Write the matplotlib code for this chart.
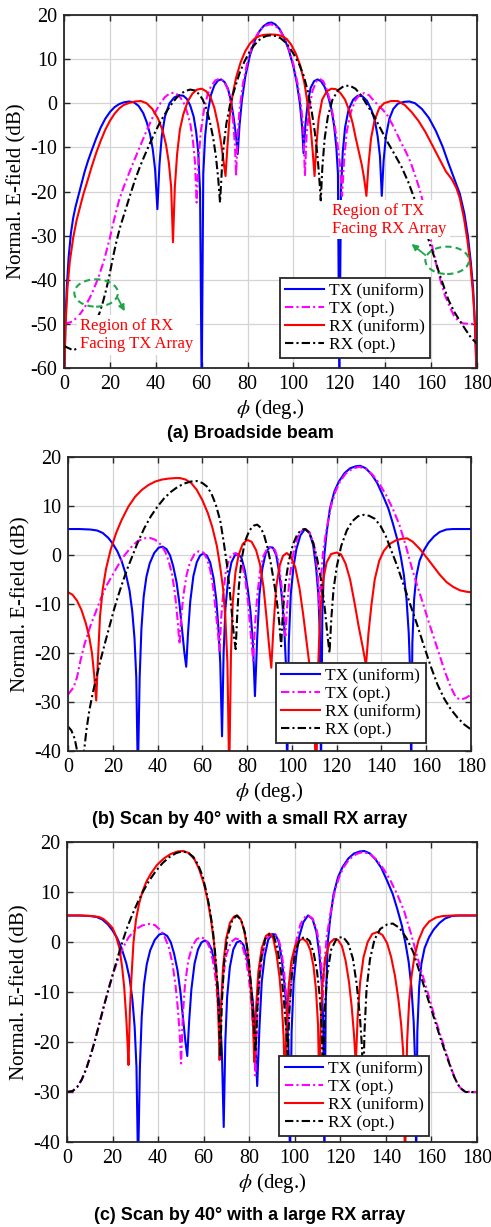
import matplotlib
matplotlib.use("Agg")
import matplotlib.pyplot as plt
from matplotlib.patches import Ellipse

# ---- values: (phi in deg, normalised E-field in dB) ----

# (a) broadside beam
a_tx_uni = [(0,-65),(0.6,-50),(1.2,-42),(2,-35),(3,-29.5),(4,-26),(5,-23.5),(6,-21.5),(7.5,-18.5),(9,-15.5),
            (10.5,-13),(12,-10.8),(14,-8),(16,-5.5),(18,-3.5),(20,-2),(22,-0.9),(24,-0.2),(26,0.2),(28.5,0.4),
            (30.5,0.2),(32.5,-0.6),(34.5,-2.2),(36,-4.2),(37.5,-7),(38.7,-10.5),(39.7,-15),(40.7,-24),(41.6,-14),
            (42.6,-7.5),(44,-3),(46,0),(48,1.3),(50,1.8),(52,1.7),(53.5,1),(55,-0.5),(56.5,-3),(57.6,-6.5),
            (58.5,-11),(59.3,-20),(60,-65),(60.7,-16),(61.5,-7.5),(62.5,-2.5),(64,1.8),(65.5,4),(67,5.1),
            (68.5,5.4),(70,4.8),(71.5,3.2),(72.8,0.5),(74,-3.5),(75,-7.5),(75.7,-11.5),(76.5,-5),(77.5,0.5),
            (79,6),(81,10.8),(83,14),(85,16.2),(87,17.5),(89,18.2),(90.5,18.3),(92,17.9),(94,16.8),(96,14.8),
            (98,12),(100,8.3),(101.5,4.5),(102.8,0),(103.8,-5.5),(104.4,-11.3),(105.2,-5),(106.2,0),(107.5,3.5),
            (109,5),(110.5,5.4),(112,5),(113.5,3.8),(115,1.8),(116.5,-1.2),(117.7,-5),(118.7,-10),(119.4,-16),
            (120,-65),(120.7,-20),(121.5,-11),(122.5,-5.5),(124,-1.5),(126,0.8),(128,1.7),(130,1.6),(132,0.6),
            (134,-1.5),(135.5,-4),(136.7,-7.5),(137.7,-12),(138.5,-21),(139.3,-13),(140.3,-7.5),(141.8,-3.5),
            (143.5,-1.3),(145.5,-0.1),(148,0.3),(150.5,0.4),(153,0),(156,-1.3),(159,-3.3),(162,-6.2),(165,-9.8),
            (167.5,-13.5),(170,-17),(172.5,-20.5),(174.5,-25),(176,-30),(177.3,-36),(178.3,-42),(179.1,-50),(180,-65)]
a_tx_opt = [(0,-50),(3,-49.6),(6,-48.5),(9,-46.3),(12,-43.3),(15,-39.5),(17.5,-35.5),(20,-30.5),(22,-26),(24,-22),
            (26,-19),(28,-16.3),(30,-13.7),(32,-11.2),(34,-8.7),(36,-6.2),(38,-3.9),(40,-1.8),(42,0),(44,1.4),
            (46,2.2),(48,2.4),(50,1.8),(52,0.3),(53.5,-1.8),(55,-4.5),(56.2,-8.5),(57.1,-13.5),(57.8,-22.5),
            (58.6,-13),(59.6,-6.5),(61,-1.5),(62.5,1.8),(64,3.8),(66,5.2),(68,5.6),(70,4.8),(71.5,3),(72.8,0),
            (73.8,-4.5),(74.5,-9.5),(75,-16.5),(75.6,-8),(76.5,-1.5),(78,4.5),(80,9.5),(82,13),(84,15.4),(86,16.9),
            (88,17.6),(90,17.9),(92,17.6),(94,16.6),(96,14.8),(98,12.3),(100,8.8),(101.8,4.5),(103.3,-0.5),
            (104.3,-5.5),(105,-16.5),(105.7,-7.5),(106.8,-1.5),(108.3,2.8),(110,5),(111.5,5.5),(113,5),(114.5,3.2),
            (116,0.5),(117.5,-3.5),(119,-8.5),(120.3,-14),(121.2,-21),(122,-13.5),(123.2,-6.5),(125,-2),(127,0.7),
            (129,2),(131,2.3),(133,1.8),(135,0.6),(137,-0.5),(139,-1.5),(141,-2.8),(143,-4.7),(145,-6.8),(147,-9),
            (149,-11),(151,-13.3),(153,-16.3),(155,-19.5),(157,-23.5),(159,-28.5),(160.5,-32.5),(162,-36),
            (164,-40),(166,-43.5),(168,-46),(170,-48.2),(172,-49.4),(174,-49.9),(177,-50),(180,-50)]
a_rx_uni = [(0,-65),(0.7,-50),(1.5,-42),(2.5,-36),(4,-30.5),(5.5,-26.5),(7,-23.5),(8.5,-20.5),(10,-18),(12,-14.5),
            (14,-11.3),(16,-8.5),(18,-6),(20,-4),(22,-2.4),(24,-1.2),(26,-0.4),(28.5,0.1),(31,0.4),(33.5,0.5),
            (36,0),(38.5,-1.3),(41,-3.5),(43,-6.2),(44.5,-9.5),(45.7,-13.5),(46.7,-19),(47.5,-31.5),(48.3,-19),
            (49.3,-11.5),(50.5,-6),(52,-2.5),(54,0.5),(56,2.2),(58,3.1),(60,3.3),(62,2.7),(64,1.2),(65.5,-1),
            (67,-4.5),(68.3,-8.5),(69.5,-13),(70.4,-16.5),(71.2,-10),(72.2,-3),(73.5,2),(75,5.8),(77,9.3),
            (79,11.8),(81,13.5),(83,14.6),(85,15.2),(87,15.5),(90,15.6),(93,15.5),(95,15.2),(97,14.6),(99,13.3),
            (101,11.3),(103,8.5),(104.8,4.5),(106.3,-0.5),(107.5,-5.5),(108.4,-11),(109.2,-16.5),(110,-9.5),
            (111,-3.5),(112.5,0.8),(114.5,2.7),(116.5,3.3),(118.5,3.2),(120.5,2.3),(122.5,0.8),(124.2,-1.5),
            (125.8,-4.5),(127.2,-8),(128.5,-11),(129.8,-14),(130.8,-17),(131.8,-21),(132.7,-14),(133.8,-8),
            (135.3,-4),(137.3,-1.2),(139.5,0),(142.5,0.5),(145.5,0.5),(148.5,-0.4),(151.5,-2),(154.5,-4),
            (157.5,-6.5),(160.5,-9.5),(163.5,-12.5),(166.5,-15.5),(169,-17.2),(171,-19.2),(172.5,-21.5),
            (174.3,-26),(175.8,-31),(177.2,-37),(178.4,-44),(179.3,-52),(180,-65)]
a_rx_opt = [(0,-55),(2,-55.5),(4,-56),(6,-55.5),(8,-54.3),(10,-53),(12,-51.3),(14,-49.3),(15.5,-47.5),(17,-45),
            (18.5,-42),(20,-38.5),(21.5,-34.5),(23,-31),(24.5,-28),(26,-25.5),(27.5,-23),(29,-20.5),(31,-17.3),
            (33,-14.5),(35,-12),(37,-9.6),(39,-7.3),(41,-5.2),(43,-3.3),(45,-1.6),(47,-0.1),(49,1.2),(51,2.2),
            (53,2.8),(55,3.1),(57,2.9),(59,2),(60.5,0.8),(62,-1.2),(63.5,-4),(65,-7.8),(66.2,-12),(67.2,-17),
            (68,-22.5),(68.8,-15),(69.6,-9.5),(70.8,-4.5),(72.5,0),(74.5,3.5),(76.5,6.8),(78.5,9.3),(80.5,11.3),
            (82.5,12.9),(84.5,14.1),(86.5,14.9),(88.5,15.3),(90.5,15.4),(92.5,15.2),(94.5,14.7),(96.5,13.8),
            (98.5,12.5),(100.5,10.8),(102.5,8.8),(104.5,6.2),(106.3,2.6),(108,-2),(109.3,-6.5),(110.4,-11.5),
            (111.2,-16.5),(111.9,-22),(112.6,-14.5),(113.6,-8),(115,-3),(117,0.8),(119.5,3),(122,3.9),(124.5,4),
            (127,3.3),(129.5,1.8),(132,-0.3),(135,-2.8),(138,-5.8),(141,-8.8),(144,-11.5),(147,-14.3),(150,-17.8),
            (153,-22),(155.5,-25.5),(157.5,-28.5),(159.5,-32),(161.5,-35),(163.5,-38.5),(165.5,-41.5),
            (167.5,-44.5),(170,-47.2),(172.5,-49.3),(175,-51.3),(177.5,-53.2),(180,-54.5)]

# (b) scan by 40 deg, small RX array
b_tx_uni = [(0,5.3),(5,5.3),(10,5.2),(13,5),(15.5,4.5),(18,3.5),(20,2.3),(22,0.8),(24,-1.3),(26,-4.2),(27.5,-7.3),
            (28.7,-11.5),(29.7,-17),(30.5,-25),(31.2,-45),(32,-25),(32.8,-15),(33.8,-8.5),(35,-4.5),(36.5,-1.7),
            (38.5,0.4),(40.5,1.5),(42.3,1.7),(44,1.2),(45.6,-0.1),(47,-2.3),(48.5,-5.6),(49.8,-10),(51,-15.5),
            (52,-20),(52.8,-22.8),(53.6,-16),(54.6,-9.5),(56,-4.3),(57.5,-1.5),(59,-0.1),(60.5,0.3),(62,-0.1),
            (63.5,-1.5),(65,-4.7),(66.2,-9),(67.2,-15),(68,-22),(68.8,-37),(69.5,-20),(70.3,-11),(71.5,-5),
            (73,-1.5),(74.5,-0.1),(76,0.2),(77.5,-0.6),(79,-3.2),(80.3,-7),(81.5,-11.5),(82.6,-18),(83.5,-28.8),
            (84.5,-17),(85.5,-8),(86.8,-2.8),(88.3,0.4),(90,1.6),(91.5,1.5),(93,0),(94.3,-3.5),(95.5,-8.5),
            (96.5,-14),(97.3,-22),(97.9,-45),(98.6,-18),(99.5,-8),(100.7,-2.5),(102,1.2),(103.8,4),(105.8,5.3),
            (107.8,4.6),(109.5,2),(110.8,-2.5),(111.8,-8),(112.5,-16),(113,-45),(113.6,-12),(114.5,0),(115.5,4.5),
            (117,9.5),(119,13),(121,15),(123.5,16.7),(126,17.7),(128.5,18.1),(130.5,18.2),(133,17.7),(135.5,16.5),
            (138,14.8),(140.5,12.3),(143,9.6),(145,6.6),(147,3.3),(148.7,-0.5),(150,-4),(151.2,-9),(152.2,-16),
            (152.9,-25),(153.3,-45),(153.8,-18),(154.6,-9),(155.6,-4.3),(157,-1.2),(159,1),(161,2.5),(163.5,3.8),
            (166,4.7),(169,5.2),(172,5.3),(180,5.3)]
b_tx_opt = [(0,-28.5),(2.5,-27),(4,-25),(5.6,-21.5),(7.5,-18),(10,-14.5),(12.5,-11.5),(15,-8.5),(17.5,-6),(20,-4),
            (22.5,-2),(25,-0.2),(28,1.5),(31,2.8),(34,3.4),(36.5,3.5),(39,3.1),(41.5,2.1),(43.5,0.6),(45,-1.3),
            (46.5,-4),(47.8,-8),(48.9,-13),(49.8,-18.2),(50.6,-12.5),(51.6,-8),(53,-4),(54.5,-1.5),(56.5,0.2),
            (58.5,0.8),(60.5,0.5),(62,-0.7),(63.5,-3),(64.8,-6.5),(66,-11.5),(67,-16),(67.7,-19.5),(68.4,-13),
            (69.2,-8.5),(70.5,-3.3),(72,-0.8),(73.5,0.2),(75,0.4),(76.5,-0.4),(78,-2.3),(79.3,-5.5),(80.5,-10),
            (81.5,-15.5),(82.7,-21.5),(83.5,-14.5),(84.5,-8.5),(85.7,-3.5),(87.3,-0.2),(89,1.3),(90.8,1.7),
            (92.5,1),(94,-1.3),(95.2,-5.5),(96.2,-10.5),(97.1,-16.5),(97.9,-10.5),(99,-4.5),(100.5,0),(102.5,3.6),
            (104.5,5),(106,5.3),(107.8,4.7),(109.5,2.7),(110.8,-0.5),(111.7,-5),(112.3,-11),(113,-4.5),(114,1),
            (115.5,5.3),(117.5,10),(119.5,13),(121.5,15),(124,16.6),(127,17.6),(130,18),(133,17.6),(136,16.4),
            (139,14.6),(142,12.3),(145,9.5),(148,6.2),(151,1.7),(153.5,-2.5),(156,-6.3),(158.5,-9.8),(161,-13.5),
            (163.5,-17),(166,-20.5),(168.5,-24),(171,-27),(173.3,-29.1),(175.4,-29.5),(177.6,-29.2),(180,-28.5)]
b_rx_uni = [(0,-7.6),(2,-8.1),(4,-9.3),(6,-11.2),(8,-14),(9.5,-16.8),(10.7,-20),(11.7,-24.5),(12.6,-29.7),
            (13.4,-21),(14.3,-12.5),(15.5,-7),(17,-2.8),(19,1),(21.5,4.5),(24,7.2),(27,9.9),(30,11.9),(33,13.3),
            (36,14.3),(39,15),(42,15.4),(45,15.6),(48,15.7),(50,15.7),(52.5,15.4),(55,14.7),(57.5,13.3),(60,11.2),
            (62.5,8.5),(64.5,5.6),(66.5,1.8),(68,-2.5),(69.3,-7),(70.3,-13),(71.2,-22),(72,-45),(72.8,-20),
            (73.6,-9.5),(74.8,-3.5),(76.2,0),(78,2.2),(80,3.1),(82,2.7),(84,1),(85.8,-2),(87.3,-6.5),(88.5,-12),
            (89.7,-18),(90.8,-23),(91.8,-14.5),(93,-6.5),(94.5,-2.2),(96,-0.2),(97.7,0.4),(99.5,-0.3),(101.5,-2.5),
            (103.4,-6.8),(105,-12),(106.5,-17.5),(108,-23),(109.5,-30),(110.9,-45),(111.8,-22),(112.6,-12),
            (113.8,-5.5),(115.5,-1.5),(117.5,0.2),(120,0.5),(122,0.1),(124,-1.8),(126,-5),(128,-9.8),(129.8,-14.5),
            (131.5,-18.5),(133.1,-22.5),(134.2,-16),(135.5,-10.3),(137,-5),(139,-1.2),(141,0.8),(143.5,2.2),
            (146.5,3),(149,3.3),(151.5,3.4),(154,2.7),(157,1.3),(160,-0.4),(163,-2.2),(166,-4),(169,-5.5),
            (172,-6.5),(175,-7.2),(178,-7.5),(180,-7.6)]
b_rx_opt = [(0,-35),(1.5,-35.8),(3,-37.5),(4.3,-40.5),(5.5,-43),(6.5,-42),(7.3,-39.5),(8.3,-35.5),(9.5,-31.8),
            (11,-28.3),(12.5,-25.3),(14.5,-21.5),(16.5,-18),(18.5,-14.6),(20.5,-11.2),(22.5,-8.2),(24.5,-5.4),
            (26.5,-2.8),(28.5,-0.5),(31,2.4),(34,5.4),(37,7.9),(40,9.9),(43,11.6),(46,12.9),(49,13.9),(52,14.6),
            (55,15),(57.5,15.1),(60,14.7),(62,14),(64,12.6),(66,10.3),(68,7),(69.5,2.8),(71,-2),(72.3,-7.5),
            (73.3,-12.5),(74.2,-17),(74.9,-19.2),(75.5,-13),(76.3,-6.5),(77.5,-1),(79,2.7),(81,5),(83,6),
            (84.5,6.2),(86,5.6),(87.5,4.2),(89,1.7),(90.5,-1.5),(92,-5.5),(93.3,-9.5),(94.4,-14),(95.2,-18.6),
            (96,-11.5),(97,-6),(98.5,-1.5),(100.5,2.2),(102.5,4.3),(104.5,5.2),(106,5.3),(107.8,4.5),(109.5,2.5),
            (111.3,-0.8),(113,-5),(114.5,-10),(115.7,-15.5),(116.8,-20),(117.6,-13),(118.6,-7),(120,-2.5),
            (122,1.8),(124.5,5),(127,6.9),(129.5,7.9),(132,8.2),(134.5,8),(137,7.4),(139.5,6),(142,3.8),
            (144.5,0.8),(147,-2.2),(150,-6.2),(153,-10.3),(156,-14.3),(159,-18.6),(162,-22.7),(165,-26.4),
            (168,-29.3),(171,-31.5),(174,-33.2),(177,-34.6),(180,-35.6)]

# (c) scan by 40 deg, large RX array (TX uniform trace is the same as in (b))
c_tx_uni = list(b_tx_uni)
c_tx_opt = [(0,-30),(2.5,-29.8),(4.5,-29),(6.5,-27.5),(8.5,-25.3),(10.5,-22.5),(12.5,-19.3),(14.5,-15.8),
            (16.5,-12.3),(18.5,-9),(20.5,-6),(22.5,-3.4),(24.5,-1.2),(27,0.9),(30,2.5),(33,3.3),(36,3.6),
            (38.5,3.4),(41,2.4),(43,0.9),(44.8,-1.2),(46.3,-4.3),(47.6,-8.5),(48.7,-13.5),(49.5,-18.5),
            (50.1,-24.3),(50.8,-15),(51.8,-8.5),(53.2,-3.8),(55,-0.8),(57,0.6),(59,1),(61,0.4),(62.5,-1),
            (64,-3.6),(65.3,-7.5),(66.3,-12.5),(67,-19.5),(67.7,-12.5),(68.7,-6.5),(70,-2.5),(72,0),(74,0.7),
            (75.5,0.5),(77,-0.8),(78.5,-3.3),(79.8,-7),(81,-12.5),(82,-19),(82.7,-26.7),(83.5,-15),(84.5,-7.5),
            (85.8,-2.5),(87.5,0.5),(89.5,1.6),(91,1.6),(92.5,1),(94,-1.3),(95.2,-5.5),(96.2,-10.5),(97.1,-16.5),
            (97.9,-10.5),(99,-4.5),(100.5,0),(102.5,3.6),(104.5,5),(106,5.3),(107.8,4.7),(109.5,2.7),(110.8,-0.5),
            (111.7,-5),(112.3,-11),(113,-4.5),(114,1),(115.5,5.3),(117.5,10),(119.5,13),(121.5,15),(124,16.6),
            (127,17.6),(130,18),(133,17.6),(136,16.4),(139,14.6),(142,12.3),(145,9.5),(148,6.2),(151,1.7),
            (153.5,-2.5),(156,-6.5),(158.5,-10.3),(161,-14.3),(163.5,-18),(166,-21.5),(168.5,-25),(170.5,-27.5),
            (172.5,-29.1),(174.5,-29.8),(177,-30),(180,-30)]
c_rx_uni = [(0,5.3),(6,5.3),(11,5.2),(14,5),(16,4.6),(18,3.8),(20,2.8),(21.5,1.2),(23,-1.2),(24.2,-5),(25.1,-9),
            (26,-15),(26.6,-20.4),(27,-24.6),(27.6,-14),(28.3,-7),(29.2,0),(30.3,4.5),(31.7,7.8),(33.3,10.3),
            (35,12.2),(37,13.8),(39.5,15.4),(42.5,16.7),(45.5,17.6),(48.5,18.1),(51,18.2),(53.5,17.8),(56,16.5),
            (58,14.6),(60,11.8),(61.7,8.5),(63.2,4.5),(64.5,0),(65.4,-5),(66.1,-11),(66.6,-17),(67,-23.6),
            (67.6,-13),(68.5,-5),(69.8,0.5),(71.5,3.8),(73.3,5.1),(74.8,5.3),(76.3,4.5),(77.8,2.3),(79.2,-1.5),
            (80.3,-6.5),(81.2,-12.5),(81.8,-18),(82.2,-24),(82.9,-14),(84,-6),(85.5,-1.2),(87.3,1.2),(88.8,1.7),
            (90.5,0.8),(92,-2.5),(93.3,-7),(94.3,-12.5),(95.1,-19),(95.7,-28.7),(96.4,-16),(97.3,-9),(98.5,-3.8),
            (100.2,-0.7),(102,0.4),(103.7,0.6),(105.3,0),(106.8,-1.6),(108.2,-4.8),(109.3,-9.5),(110.2,-16.5),
            (110.8,-30),(111.4,-16),(112.2,-8),(113.5,-3),(115.3,-0.2),(117.3,0.6),(119,0.4),(120.7,-0.8),
            (122.3,-3.7),(123.8,-8),(125,-13),(126,-18.5),(126.8,-24.4),(127.6,-15),(128.7,-8),(130.2,-3),(132,0),
            (134,1.6),(136.3,2),(138.5,1.4),(140.5,-0.2),(142.3,-3),(144,-6.8),(145.5,-11.5),(146.7,-16.5),
            (147.6,-22),(148.4,-45),(149.3,-20),(150.2,-12),(151.2,-7),(152.5,-3),(154.3,0.3),(156.5,2.7),
            (159,4.1),(162,4.9),(165,5.2),(170,5.3),(180,5.3)]
c_rx_opt = [(0,-30),(2.5,-29.8),(4.5,-29),(6.5,-27.5),(8.5,-25.3),(10.5,-22.5),(12.5,-19.3),(14.5,-15.8),
            (16.5,-12.3),(18.5,-9),(20.5,-5.8),(22.5,-2.7),(24.5,0.3),(26.5,3),(28.5,5.3),(31,7.9),(33.5,10.2),
            (36,12.2),(39,14.2),(42,15.8),(45,17),(48,17.8),(50.5,18.1),(53,17.9),(55.5,17),(57.5,15.5),
            (59.5,13.2),(61.2,10),(62.7,6.5),(64,2.5),(65.1,-2.5),(66,-8),(66.7,-14.5),(67.3,-23),(68,-12),
            (69,-4),(70.5,1.2),(72.5,4.3),(74.5,5.3),(76.5,4.4),(78.3,1.5),(79.8,-3.5),(81,-10),(82,-16.5),
            (82.8,-22),(83.7,-12),(85,-4),(87,0.6),(89,1.6),(90.8,1.2),(92.5,-1.5),(94,-6),(95.3,-12),(96.3,-18),
            (96.9,-23),(97.6,-14),(98.7,-6.5),(100.3,-1.8),(102.3,0.6),(104.4,1),(106.5,0.2),(108.3,-2.2),
            (109.8,-6),(111,-11),(111.8,-17),(112.4,-28),(113.1,-14),(114.2,-6.5),(116,-1.5),(118.5,0.8),
            (121.2,1),(123.5,-0.3),(125.5,-3.3),(127.2,-8.5),(128.6,-15),(129.5,-21),(130,-30),(130.6,-18),
            (131.5,-9.5),(133,-3.5),(135,0.5),(137.5,2.6),(140.5,3.5),(143,3.7),(146,2.8),(149,0.8),(152,-2),
            (155,-6.3),(158,-10.7),(161,-15),(164,-19.3),(167,-23.3),(170,-27),(172.5,-29.2),(175,-30),(180,-30)]

labels = ["TX (uniform)", "TX (opt.)", "RX (uniform)", "RX (opt.)"]
titles = ["(a) Broadside beam", "(b) Scan by 40\u00b0 with a small RX array",
          "(c) Scan by 40\u00b0 with a large RX array"]

plt.rcParams["font.family"] = ["Liberation Serif", "DejaVu Serif"]
plt.rcParams["mathtext.fontset"] = "stix"
plt.rcParams["axes.unicode_minus"] = False

dashdot = (0, (4, 1.5, 1, 1.5))
styles = [dict(color="#0000ff", ls="-"), dict(color="#ff00ff", ls=dashdot),
          dict(color="#ff0000", ls="-"), dict(color="#000000", ls=dashdot)]

W, H = 491, 1227
fig = plt.figure(figsize=(W / 100, H / 100), dpi=100)


def px_axes(l, t, r, b):
    return fig.add_axes([l / W, 1 - b / H, (r - l) / W, (b - t) / H])


def draw(ax, curves, ylo, leg_anchor):
    for data, st, lab in zip(curves, styles, labels):
        x = [p[0] for p in data]
        y = [p[1] for p in data]
        ax.plot(x, y, lw=1.5, label=lab, **st)
    ax.set_xlim(0, 180)
    ax.set_ylim(ylo, 20)
    ax.set_xticks(range(0, 181, 20))
    ax.set_yticks(range(ylo, 21, 10))
    ax.grid(True, color="#d4d4d4", lw=0.9)
    ax.set_axisbelow(True)
    ax.tick_params(direction="in", top=True, right=True, length=4, width=1,
                   labelsize=14.5, pad=5, color="#262626")
    for s in ax.spines.values():
        s.set_linewidth(1.3)
        s.set_color("#262626")
    ax.set_xlabel("$\\phi$ (deg.)", fontsize=15, labelpad=2)
    ax.set_ylabel("Normal. E-field (dB)", fontsize=15, labelpad=3)
    leg = ax.legend(loc="lower right", bbox_to_anchor=leg_anchor, fontsize=12.5,
                    handlelength=2.2, handletextpad=0.3, labelspacing=0.1,
                    borderpad=0.3, borderaxespad=0, fancybox=False, framealpha=1)
    leg.get_frame().set_edgecolor("#262626")
    leg.get_frame().set_linewidth(1.3)
    leg.set_zorder(10)


ax_a = px_axes(64, 15, 477, 368)
draw(ax_a, [a_tx_uni, a_tx_opt, a_rx_uni, a_rx_opt], -60, (0.886, 0.028))
ax_b = px_axes(68, 457, 471, 751)
draw(ax_b, [b_tx_uni, b_tx_opt, b_rx_uni, b_rx_opt], -40, (0.888, 0.027))
ax_c = px_axes(67, 842, 477, 1142)
draw(ax_c, [c_tx_uni, c_tx_opt, c_rx_uni, c_rx_opt], -40, (0.883, 0.02))

# annotations of panel (a)
green = "#1fa64a"
for cx, cy in [(14, -43), (167, -35.6)]:
    ax_a.add_patch(Ellipse((cx, cy), 19, 6.2, fill=False, ec=green, lw=1.5, ls=(0, (3, 2)), zorder=6))
ax_a.annotate("", xy=(27, -47.7), xytext=(22.9, -43.6),
              arrowprops=dict(arrowstyle="-|>", color=green, lw=1.3, mutation_scale=9), zorder=6)
ax_a.annotate("", xy=(150.5, -31.5), xytext=(158.4, -34.8),
              arrowprops=dict(arrowstyle="-|>", color=green, lw=1.3, mutation_scale=9), zorder=6)
box = dict(facecolor="white", edgecolor="none", pad=2)
ax_a.text(6.8, -52.5, "Region of RX\nFacing TX Array", color="red", fontsize=12,
          ha="left", va="center", linespacing=1.15, bbox=box, zorder=5)
ax_a.text(117, -26.4, "Region of TX\nFacing RX Array", color="red", fontsize=12,
          ha="left", va="center", linespacing=1.15, bbox=box, zorder=5)

for t, yc in zip(titles, [433, 820, 1215]):
    fig.text(250 / W, 1 - yc / H, t, ha="center", va="center", fontsize=13,
             fontweight="bold", family="Liberation Sans")

fig.savefig("out.png", dpi=100)
